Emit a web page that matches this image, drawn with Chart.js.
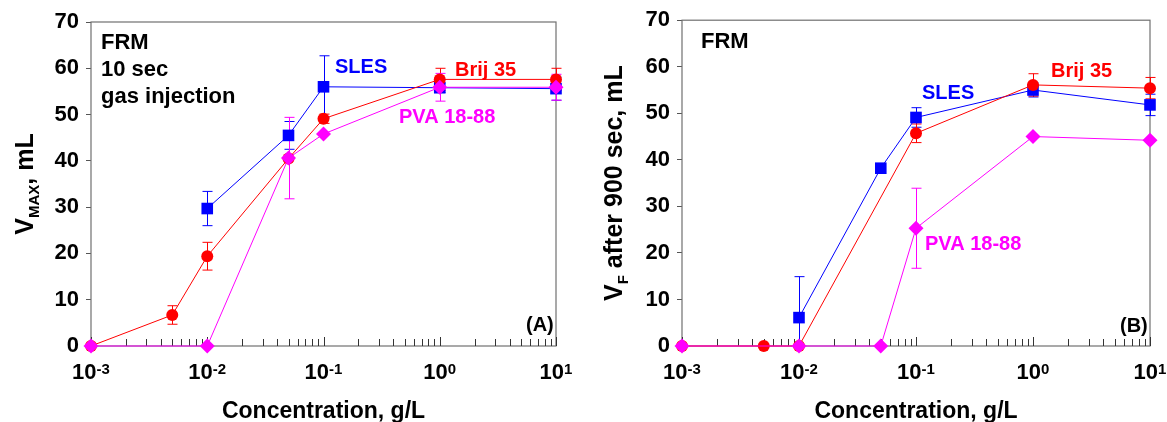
<!DOCTYPE html>
<html>
<head>
<meta charset="utf-8">
<script src="https://cdn.jsdelivr.net/npm/chart.js@4.4.1/dist/chart.umd.min.js"></script>
<style>
  html, body { margin: 0; padding: 0; background: #fff; }
  #wrap { position: relative; width: 1167px; height: 422px; }
  #cA { position: absolute; left: 0; top: 0; }
  #cB { position: absolute; left: 590px; top: 0; }
</style>
</head>
<body>
<div id="wrap">
  <canvas id="cA" width="590" height="422"></canvas>
  <canvas id="cB" width="577" height="422"></canvas>
</div>
<script>
// x tick decades (log axis, g/L)
const decades = [-3, -2, -1, 0, 1];

// ---- panel A: V_MAX, 10 sec gas injection ----
const slesA_x = [0.01, 0.05, 0.1, 1, 10];
const slesA_y = [29.7, 45.5, 56.0, 55.8, 55.6];
const slesA_err = [3.7, 3.0, 6.7, 1.0, 2.5];

const brijA_x = [0.001, 0.005, 0.01, 0.05, 0.1, 1, 10];
const brijA_y = [0, 6.7, 19.4, 40.5, 49.1, 57.6, 57.6];
const brijA_err = [0, 2.0, 3.0, 0, 1.0, 2.4, 2.4];

const pvaA_x = [0.001, 0.01, 0.05, 0.1, 1, 10];
const pvaA_y = [0, 0, 40.6, 45.8, 55.9, 55.9];
const pvaA_err = [0, 0, 8.8, 0, 3.0, 2.8];

// ---- panel B: V_F after 900 sec ----
const slesB_x = [0.01, 0.05, 0.1, 1, 10];
const slesB_y = [6.1, 38.2, 49.1, 55.0, 51.8];
const slesB_err = [8.8, 0, 2.1, 1.5, 2.3];

const brijB_x = [0.001, 0.005, 0.01, 0.1, 1, 10];
const brijB_y = [0, 0, 0, 45.7, 56.1, 55.4];
const brijB_err = [0, 0, 0, 2.0, 2.4, 2.3];

const pvaB_x = [0.001, 0.01, 0.05, 0.1, 1, 10];
const pvaB_y = [0, 0, 0, 25.3, 45.0, 44.2];
const pvaB_err = [0, 0, 0, 8.6, 0, 0];

const FONT = '"Liberation Sans", Arial, sans-serif';
const BLUE = '#0000ff', RED = '#ff0000', MAG = '#ff00ff';

function pts(xs, ys) { return xs.map((x, i) => ({ x: x, y: ys[i] })); }

function series(label, xs, ys, err, color, style, r, order) {
  return {
    label: label, data: pts(xs, ys), err: err,
    borderColor: color, backgroundColor: color, borderWidth: 1,
    pointStyle: style, pointRadius: r, pointHoverRadius: r,
    pointBorderWidth: 0, pointBackgroundColor: color,
    tension: 0, clip: false, order: order
  };
}

function decor(o) {
  return {
    id: 'decor',
    beforeDatasetsDraw(chart) {
      const ctx = chart.ctx, a = chart.chartArea;
      const xs = chart.scales.x, ys = chart.scales.y;
      // frame
      ctx.save();
      ctx.strokeStyle = '#707070';
      ctx.lineWidth = 1.2;
      ctx.strokeRect(a.left, a.top, a.right - a.left, a.bottom - a.top);
      // inward x ticks
      ctx.strokeStyle = '#333';
      ctx.lineWidth = 1;
      ctx.beginPath();
      decades.forEach(d => {
        for (let m = 1; m <= 9; m++) {
          if (d === 1 && m > 1) break;
          const px = Math.round(xs.getPixelForValue(m * Math.pow(10, d))) + 0.5;
          const len = m === 1 ? 9 : 7;
          ctx.moveTo(px, a.bottom);
          ctx.lineTo(px, a.bottom - len);
        }
      });
      ctx.stroke();
      // error bars
      chart.data.datasets.slice().reverse().forEach(ds => {
        ctx.strokeStyle = ds.borderColor;
        ctx.lineWidth = 1;
        ctx.beginPath();
        ds.data.forEach((p, i) => {
          const e = ds.err[i];
          if (!e) return;
          const px = Math.round(xs.getPixelForValue(p.x)) + 0.5;
          const y1 = ys.getPixelForValue(p.y + e);
          const y2 = ys.getPixelForValue(Math.max(0, p.y - e));
          ctx.moveTo(px, y1); ctx.lineTo(px, y2);
          ctx.moveTo(px - 5, y1); ctx.lineTo(px + 5, y1);
          if (p.y - e > 0) { ctx.moveTo(px - 5, y2); ctx.lineTo(px + 5, y2); }
        });
        ctx.stroke();
      });
      ctx.restore();
    },
    afterDraw(chart) {
      const ctx = chart.ctx, a = chart.chartArea;
      const xs = chart.scales.x;
      ctx.save();
      ctx.textBaseline = 'alphabetic';
      // x tick labels 10^n
      decades.forEach(d => {
        const px = xs.getPixelForValue(Math.pow(10, d));
        ctx.font = 'bold 22px ' + FONT;
        const w1 = ctx.measureText('10').width;
        ctx.font = 'bold 15px ' + FONT;
        const w2 = ctx.measureText(String(d)).width;
        const x0 = px - (w1 + w2) / 2;
        ctx.fillStyle = '#000';
        ctx.textAlign = 'left';
        ctx.font = 'bold 22px ' + FONT;
        ctx.fillText('10', x0, 379);
        ctx.font = 'bold 15px ' + FONT;
        ctx.fillText(String(d), x0 + w1, 374);
      });
      // x title
      ctx.font = 'bold 23px ' + FONT;
      ctx.textAlign = 'center';
      ctx.fillText('Concentration, g/L', (a.left + a.right) / 2, 418);
      // y title with subscript
      ctx.translate(o.yTitleX, (a.top + a.bottom) / 2);
      ctx.rotate(-Math.PI / 2);
      ctx.textAlign = 'left';
      ctx.font = 'bold 25px ' + FONT;
      const wV = ctx.measureText('V').width;
      const wRest = ctx.measureText(o.yRest).width;
      ctx.font = 'bold 15px ' + FONT;
      const wSub = ctx.measureText(o.ySub).width;
      let x = -(wV + wSub + wRest) / 2;
      ctx.font = 'bold 25px ' + FONT;
      ctx.fillText('V', x, 0);
      x += wV;
      ctx.font = 'bold 15px ' + FONT;
      ctx.fillText(o.ySub, x, 6);
      x += wSub;
      ctx.font = 'bold 25px ' + FONT;
      ctx.fillText(o.yRest, x, 0);
      ctx.setTransform(1, 0, 0, 1, 0, 0);
      // in-plot annotations
      o.notes.forEach(n => {
        ctx.font = 'bold ' + n.size + 'px ' + FONT;
        ctx.fillStyle = n.color;
        ctx.textAlign = 'left';
        ctx.fillText(n.text, n.x, n.y);
      });
      ctx.restore();
    }
  };
}

function makeChart(id, sets, o) {
  return new Chart(document.getElementById(id), {
    type: 'line',
    data: { datasets: sets },
    options: {
      responsive: false,
      animation: false,
      layout: { padding: { top: o.top, right: o.right, left: 0, bottom: 0 } },
      plugins: { legend: { display: false }, tooltip: { enabled: false } },
      scales: {
        x: {
          type: 'logarithmic', min: 0.001, max: 10,
          ticks: { display: false },
          grid: { display: false },
          border: { display: false },
          afterFit(s) { s.height = 76; }
        },
        y: {
          min: 0, max: 70,
          ticks: { stepSize: 10, color: '#000', padding: 7,
                   font: { family: FONT, size: 22, weight: 'bold' } },
          grid: { display: true, drawOnChartArea: false, drawTicks: true,
                  tickLength: 5, color: '#555' },
          border: { display: false },
          afterFit(s) { s.width = o.yWidth; }
        }
      }
    },
    plugins: [decor(o)]
  });
}

makeChart('cA', [
  series('PVA 18-88', pvaA_x, pvaA_y, pvaA_err, MAG, 'rectRot', 7.5, 0),
  series('Brij 35', brijA_x, brijA_y, brijA_err, RED, 'circle', 6, 1),
  series('SLES', slesA_x, slesA_y, slesA_err, BLUE, 'rect', 8.2, 2)
], {
  top: 22, right: 34, yWidth: 91, yTitleX: 33, ySub: 'MAX', yRest: ', mL',
  notes: [
    { text: 'FRM', x: 101, y: 49, size: 22, color: '#000' },
    { text: '10 sec', x: 101, y: 76, size: 22, color: '#000' },
    { text: 'gas injection', x: 101, y: 103, size: 22, color: '#000' },
    { text: 'SLES', x: 335, y: 73, size: 20, color: BLUE },
    { text: 'Brij 35', x: 455, y: 76, size: 20, color: RED },
    { text: 'PVA 18-88', x: 399, y: 123, size: 20, color: MAG },
    { text: '(A)', x: 526, y: 331, size: 20, color: '#000' }
  ]
});

makeChart('cB', [
  series('PVA 18-88', pvaB_x, pvaB_y, pvaB_err, MAG, 'rectRot', 7.5, 0),
  series('Brij 35', brijB_x, brijB_y, brijB_err, RED, 'circle', 6, 1),
  series('SLES', slesB_x, slesB_y, slesB_err, BLUE, 'rect', 8.2, 2)
], {
  top: 19, right: 17, yWidth: 92, yTitleX: 32, ySub: 'F', yRest: ' after 900 sec, mL',
  notes: [
    { text: 'FRM', x: 111, y: 48, size: 22, color: '#000' },
    { text: 'SLES', x: 332, y: 99, size: 20, color: BLUE },
    { text: 'Brij 35', x: 461, y: 77, size: 20, color: RED },
    { text: 'PVA 18-88', x: 335, y: 250, size: 20, color: MAG },
    { text: '(B)', x: 530, y: 332, size: 20, color: '#000' }
  ]
});
</script>
</body>
</html>
